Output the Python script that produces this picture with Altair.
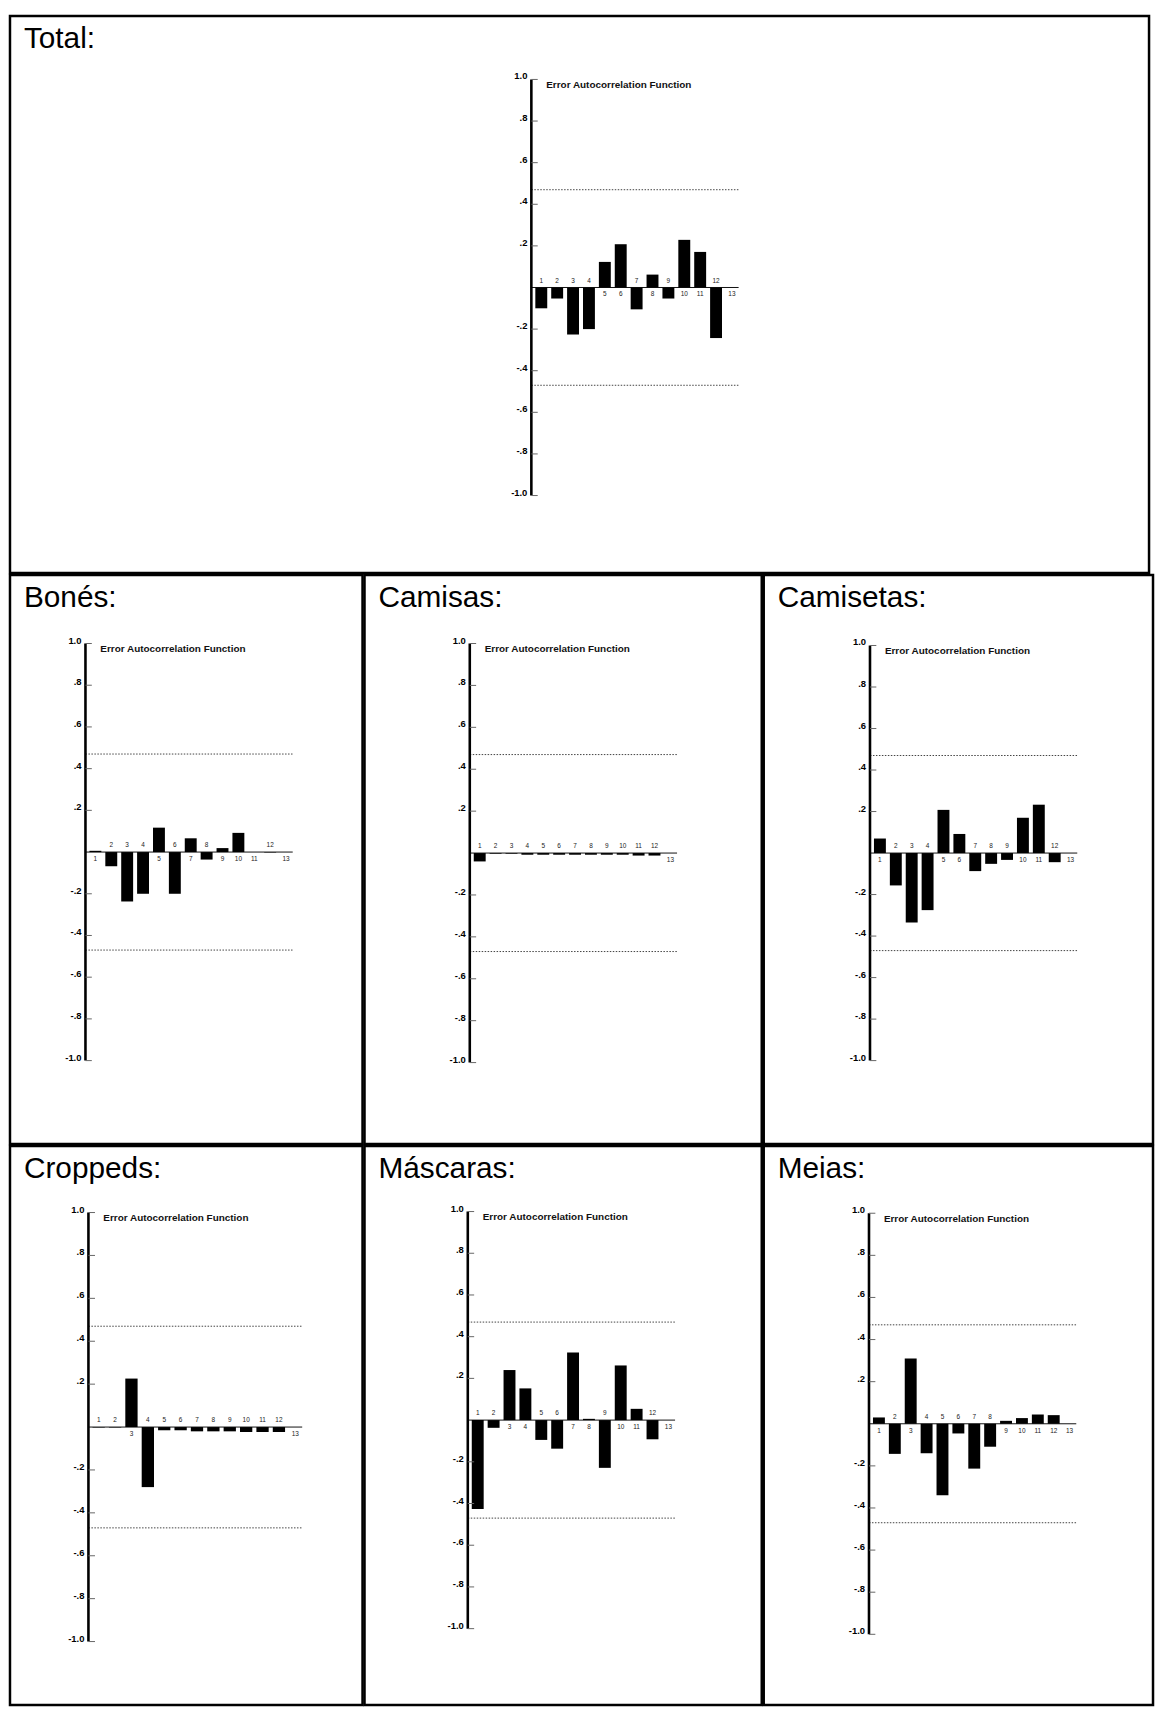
import altair as alt
import pandas as pd

# ---------------- data ----------------
LAGS = list(range(1, 14))
PANEL_NAMES = ["Total:", "Bonés:", "Camisas:", "Camisetas:", "Croppeds:", "Máscaras:", "Meias:"]

total = [-0.100, -0.053, -0.226, -0.200, 0.123, 0.208, -0.105, 0.062, -0.053, 0.229, 0.171, -0.243, 0.0]
bones = [0.006, -0.068, -0.237, -0.200, 0.117, -0.200, 0.066, -0.036, 0.019, 0.092, 0.0, -0.002, 0.0]
camisas = [-0.040, -0.003, -0.003, -0.008, -0.008, -0.008, -0.008, -0.008, -0.008, -0.008, -0.012, -0.012, 0.0]
camisetas = [0.070, -0.156, -0.335, -0.275, 0.208, 0.092, -0.087, -0.052, -0.033, 0.170, 0.233, -0.044, 0.0]
croppeds = [-0.002, -0.002, 0.226, -0.280, -0.015, -0.015, -0.020, -0.020, -0.020, -0.023, -0.023, -0.023, 0.0]
mascaras = [-0.426, -0.037, 0.240, 0.152, -0.095, -0.137, 0.324, 0.006, -0.229, 0.262, 0.054, -0.092, 0.0]
meias = [0.030, -0.143, 0.310, -0.140, -0.340, -0.046, -0.213, -0.109, 0.014, 0.027, 0.044, 0.041, 0.0]

SERIES = {
    "Total:": total, "Bonés:": bones, "Camisas:": camisas, "Camisetas:": camisetas,
    "Croppeds:": croppeds, "Máscaras:": mascaras, "Meias:": meias,
}

TICK_VALUES = [1.0, 0.8, 0.6, 0.4, 0.2, -0.2, -0.4, -0.6, -0.8, -1.0]
TICK_LABELS = ["1.0", ".8", ".6", ".4", ".2", "-.2", "-.4", "-.6", "-.8", "-1.0"]
CONF_LIMIT = 0.47
INNER_TITLE = "Error Autocorrelation Function"

# ---------------- layout geometry (page pixels) ----------------
# px, py: cell origin; w, h: cell size; ax: y-axis x; zy: zero-line y; u: px per 1.0; s: px per lag
GEOM = {
    "Total:":     dict(px=8,   py=12,   w=1147, h=561, ax=533, zy=285.5,  u=209.5, s=16.0),
    "Bonés:":     dict(px=8,   py=573,  w=355,  h=573, ax=84,  zy=852.0,  u=210.0, s=16.0),
    "Camisas:":   dict(px=363, py=573,  w=400,  h=573, ax=469, zy=853.0,  u=211.0, s=16.0),
    "Camisetas:": dict(px=763, py=573,  w=392,  h=573, ax=870, zy=853.0,  u=209.0, s=16.0),
    "Croppeds:":  dict(px=8,   py=1146, w=355,  h=563, ax=87,  zy=1429.0, u=216.0, s=16.5),
    "Máscaras:":  dict(px=363, py=1146, w=400,  h=563, ax=467, zy=1422.0, u=210.0, s=16.0),
    "Meias:":     dict(px=763, py=1146, w=392,  h=563, ax=869, zy=1425.7, u=212.0, s=16.0),
}
AXIS_LAG = 0.375      # y axis sits between lag 0 and lag 1
END_LAG = 13.42       # end of the zero / confidence lines
HALF_BAR = 0.375      # bar half width in lag units
TICK_LEN = 0.4
BORDER = 2.5
GAP = -2 * BORDER     # cell bounds include the border stroke on both sides

FONT = "Liberation Sans"


def panel(name):
    g = GEOM[name]
    x0 = AXIS_LAG - (g["ax"] - g["px"]) / g["s"]
    x1 = x0 + g["w"] / g["s"]
    ytop = (g["zy"] - g["py"]) / g["u"]
    ybot = (g["zy"] - g["py"] - g["h"]) / g["u"]
    xs = alt.Scale(domain=[x0, x1], nice=False, zero=False)
    ys = alt.Scale(domain=[ybot, ytop], nice=False, zero=False)

    def X(f):
        return alt.X(f, type="quantitative", scale=xs, axis=None)

    def Y(f):
        return alt.Y(f, type="quantitative", scale=ys, axis=None)

    bars = pd.DataFrame({"lag": LAGS, "acf": SERIES[name]})
    bars["lo"] = bars["lag"] - HALF_BAR
    bars["hi"] = bars["lag"] + HALF_BAR
    bars["base"] = 0.0
    bars["lab"] = bars["lag"].astype(str)

    hl = pd.DataFrame({"y": [0.0, CONF_LIMIT, -CONF_LIMIT],
                       "kind": ["zero", "conf", "conf"]})
    hl["x"] = AXIS_LAG
    hl["x2"] = END_LAG

    ax = pd.DataFrame({"x": [AXIS_LAG], "y": [-1.0], "y2": [1.0]})
    ticks = pd.DataFrame({"y": TICK_VALUES, "label": TICK_LABELS})
    ticks["x"] = AXIS_LAG
    ticks["x2"] = AXIS_LAG + TICK_LEN
    ttl = pd.DataFrame({"x": [AXIS_LAG + 15 / g["s"]], "y": [1.0], "t": [INNER_TITLE]})
    cell = pd.DataFrame({"t": [name]})

    layers = [
        alt.Chart(hl).transform_filter("datum.kind == 'conf'").mark_rule(
            color="#444", strokeWidth=1, strokeDash=[1.5, 1.5]
        ).encode(x=X("x"), x2="x2", y=Y("y")),
        alt.Chart(hl).transform_filter("datum.kind == 'zero'").mark_rule(
            color="#111", strokeWidth=1
        ).encode(x=X("x"), x2="x2", y=Y("y")),
        alt.Chart(bars).mark_rect(color="black").encode(
            x=X("lo"), x2="hi", y=Y("acf"), y2="base"
        ),
        alt.Chart(bars).transform_filter("datum.acf < 0").mark_text(
            fontSize=6.5, font=FONT, color="#222", dy=-7, baseline="middle"
        ).encode(x=X("lag"), y=Y("base"), text="lab:N"),
        alt.Chart(bars).transform_filter("datum.acf >= 0").mark_text(
            fontSize=6.5, font=FONT, color="#222", dy=7, baseline="middle"
        ).encode(x=X("lag"), y=Y("base"), text="lab:N"),
        alt.Chart(ax).mark_rule(color="black", strokeWidth=2.6).encode(
            x=X("x"), y=Y("y"), y2="y2"
        ),
        alt.Chart(ticks).mark_rule(color="#666", strokeWidth=1).encode(
            x=X("x"), x2="x2", y=Y("y")
        ),
        alt.Chart(ticks).mark_text(
            fontSize=9.5, font=FONT, fontWeight="bold", color="black",
            align="right", baseline="middle", dx=-4, dy=-3
        ).encode(x=X("x"), y=Y("y"), text="label:N"),
        alt.Chart(ttl).mark_text(
            fontSize=10, font=FONT, fontWeight="bold", color="#111",
            align="left", baseline="middle", dy=6
        ).encode(x=X("x"), y=Y("y"), text="t:N"),
        alt.Chart(cell).mark_text(
            fontSize=30, font=FONT, color="black", align="left", baseline="alphabetic"
        ).encode(x=alt.value(14), y=alt.value(32), text="t:N"),
    ]
    return alt.layer(*layers).properties(width=g["w"], height=g["h"])


row1 = panel("Total:")
row2 = alt.hconcat(panel("Bonés:"), panel("Camisas:"), panel("Camisetas:"), spacing=GAP)
row3 = alt.hconcat(panel("Croppeds:"), panel("Máscaras:"), panel("Meias:"), spacing=GAP)

chart = alt.vconcat(row1, row2, row3, spacing=GAP).properties(
    padding=0, background="white"
).configure_view(stroke="black", strokeWidth=BORDER, fill="white")

chart.save("out.html", embed_options={"renderer": "svg", "actions": False})
